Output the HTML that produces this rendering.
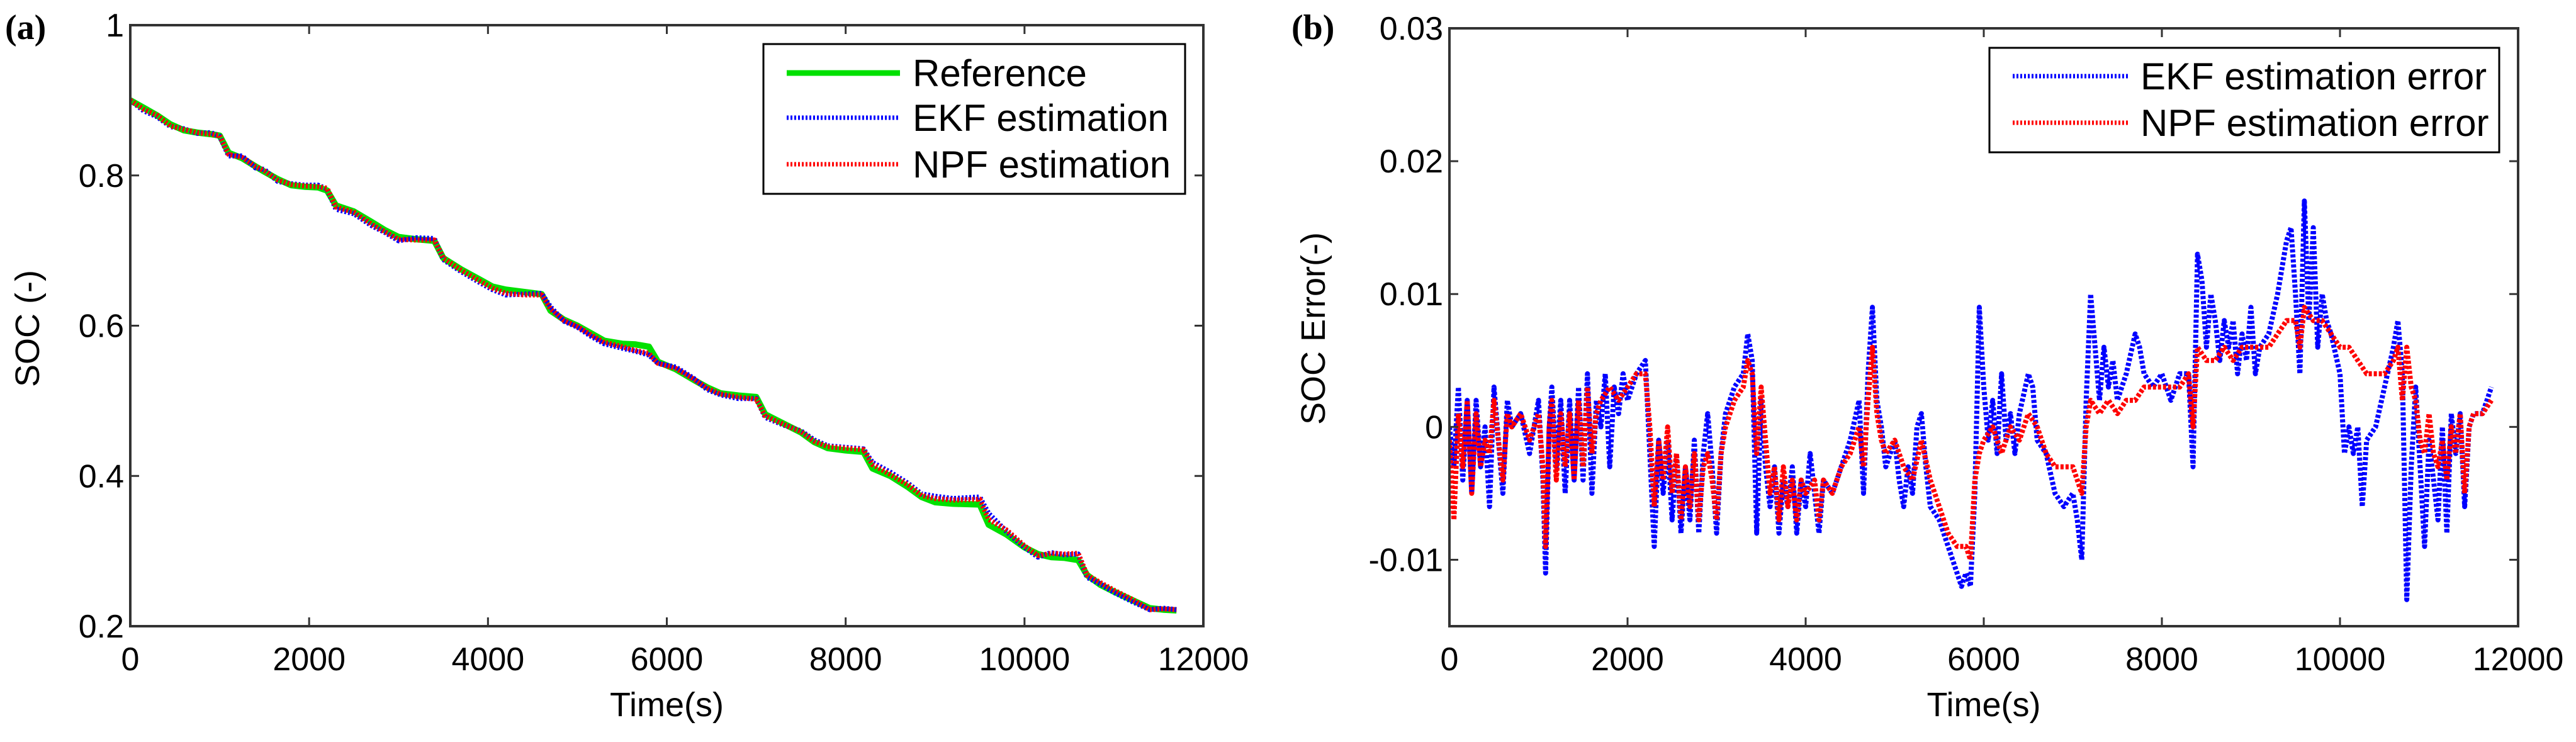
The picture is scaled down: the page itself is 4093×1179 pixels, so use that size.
<!DOCTYPE html>
<html><head><meta charset="utf-8"><style>
html,body{margin:0;padding:0;background:#fff;}
svg{display:block;font-family:"Liberation Sans",Arial,sans-serif;}
</style></head><body>
<svg id="chart" width="4093" height="1179" viewBox="0 0 4093 1179" xmlns="http://www.w3.org/2000/svg">
<text x="8" y="62" font-family="Liberation Serif,serif" font-weight="bold" font-size="56">(a)</text>
<text x="2052" y="62" font-family="Liberation Serif,serif" font-weight="bold" font-size="56">(b)</text>
<g id="pa"></g>
<g id="pb"></g>
</svg>
<script>
const NS="http://www.w3.org/2000/svg";
// Panel A data
const socTimes=[0,150,300,450,600,750,900,1000,1100,1250,1400,1500,1650,1800,1950,2100,2200,2300,2500,2700,2850,3000,3200,3400,3500,3700,3900,4050,4200,4400,4600,4700,4850,5000,5150,5300,5500,5650,5800,5900,6100,6300,6450,6600,6800,7000,7100,7300,7500,7650,7800,8000,8200,8300,8500,8700,8850,9000,9200,9500,9600,9800,10000,10150,10300,10450,10600,10700,10850,11000,11200,11400,11550,11700];
const socReference=[0.9,0.89,0.88,0.868,0.86,0.857,0.855,0.853,0.83,0.823,0.812,0.805,0.795,0.787,0.785,0.784,0.78,0.76,0.752,0.738,0.727,0.718,0.715,0.713,0.69,0.675,0.662,0.652,0.648,0.645,0.642,0.62,0.608,0.6,0.59,0.58,0.576,0.575,0.572,0.552,0.542,0.528,0.518,0.51,0.507,0.505,0.482,0.47,0.458,0.445,0.437,0.434,0.432,0.41,0.4,0.385,0.372,0.365,0.363,0.362,0.335,0.322,0.305,0.296,0.292,0.291,0.288,0.268,0.255,0.246,0.235,0.224,0.222,0.221];
const socEKF=[0.9,0.886,0.878,0.865,0.862,0.856,0.857,0.852,0.826,0.826,0.81,0.808,0.792,0.789,0.787,0.787,0.782,0.755,0.749,0.733,0.724,0.713,0.717,0.716,0.688,0.672,0.658,0.648,0.641,0.642,0.643,0.625,0.606,0.598,0.586,0.576,0.57,0.566,0.561,0.55,0.545,0.53,0.515,0.508,0.503,0.503,0.478,0.468,0.46,0.448,0.44,0.438,0.436,0.418,0.405,0.39,0.376,0.373,0.37,0.372,0.35,0.326,0.305,0.292,0.298,0.295,0.296,0.265,0.256,0.245,0.233,0.222,0.224,0.222];
const socNPF=[0.9,0.888,0.88,0.866,0.861,0.857,0.855,0.853,0.828,0.824,0.812,0.806,0.794,0.788,0.786,0.785,0.783,0.758,0.751,0.735,0.725,0.715,0.714,0.714,0.69,0.674,0.66,0.65,0.643,0.641,0.641,0.622,0.607,0.599,0.588,0.578,0.572,0.567,0.563,0.55,0.543,0.529,0.517,0.509,0.505,0.502,0.48,0.469,0.459,0.446,0.439,0.437,0.435,0.415,0.402,0.388,0.374,0.37,0.368,0.369,0.342,0.328,0.307,0.294,0.297,0.296,0.297,0.268,0.258,0.248,0.236,0.222,0.223,0.222];
const xTicksA=[0,2000,4000,6000,8000,10000,12000];
const yTicksA=[0.2,0.4,0.6,0.8,1];
const yTickLabelsA=["0.2","0.4","0.6","0.8","1"];
// Panel B data
const ekfErrTimes=[0,50,100,150,200,250,300,350,400,450,500,550,600,650,700,800,900,1000,1050,1080,1120,1150,1200,1250,1300,1350,1400,1450,1500,1550,1600,1650,1700,1750,1800,1850,1900,1950,2000,2100,2200,2250,2300,2350,2400,2450,2500,2550,2600,2650,2700,2750,2800,2850,2900,2950,3000,3050,3100,3200,3300,3350,3400,3450,3500,3550,3600,3650,3700,3750,3800,3850,3900,3950,4000,4050,4100,4150,4200,4300,4400,4500,4600,4650,4700,4750,4800,4850,4900,5000,5050,5100,5150,5200,5250,5300,5350,5400,5500,5600,5700,5750,5800,5850,5900,5950,6000,6050,6100,6150,6200,6250,6300,6350,6400,6500,6550,6600,6700,6800,6900,7000,7050,7100,7150,7200,7250,7300,7350,7400,7450,7500,7600,7700,7750,7800,7900,8000,8100,8200,8300,8350,8400,8450,8500,8550,8600,8650,8700,8750,8800,8850,8900,8950,9000,9050,9100,9200,9300,9400,9450,9500,9550,9600,9650,9700,9750,9800,9850,9900,10000,10050,10100,10150,10200,10250,10300,10400,10500,10600,10650,10700,10750,10800,10850,10900,10950,11000,11050,11100,11150,11200,11250,11300,11350,11400,11450,11500,11600,11700];
const ekfErr=[0,-0.003,0.003,-0.004,0.002,-0.005,0.002,-0.003,0,-0.006,0.003,-0.001,-0.005,0.002,0,0.001,-0.002,0.002,-0.004,-0.011,0,0.003,-0.003,0.002,-0.005,0.002,-0.004,0.003,-0.004,0.004,-0.005,0.002,0,0.004,-0.003,0.003,0.001,0.004,0.002,0.004,0.005,-0.002,-0.009,-0.001,-0.005,-0.001,-0.007,-0.002,-0.008,-0.003,-0.007,-0.001,-0.008,-0.002,0.001,-0.003,-0.008,-0.002,0.001,0.003,0.004,0.007,0.005,-0.008,0.002,-0.003,-0.006,-0.003,-0.008,-0.004,-0.006,-0.003,-0.008,-0.004,-0.006,-0.002,-0.005,-0.008,-0.004,-0.005,-0.003,-0.001,0.002,-0.005,0.004,0.009,0.002,0,-0.003,-0.001,-0.004,-0.006,-0.003,-0.005,0,0.001,-0.003,-0.006,-0.007,-0.009,-0.011,-0.012,-0.011,-0.012,-0.005,0.009,0.003,-0.001,0.002,-0.002,0.004,-0.001,0.001,-0.002,0.001,0.004,0.003,-0.001,-0.002,-0.005,-0.006,-0.005,-0.007,-0.01,0.002,0.01,0.006,0.002,0.006,0.003,0.005,0.002,0.004,0.007,0.006,0.004,0.003,0.004,0.002,0.004,0.004,-0.003,0.013,0.011,0.006,0.01,0.008,0.005,0.008,0.006,0.008,0.004,0.007,0.005,0.009,0.004,0.006,0.007,0.01,0.014,0.015,0.01,0.004,0.017,0.008,0.015,0.006,0.01,0.008,0.007,0.004,-0.002,0,-0.002,0,-0.006,-0.001,0,0.003,0.006,0.008,0.004,-0.013,-0.003,0.003,-0.003,-0.009,-0.001,-0.004,-0.007,0,-0.008,0.001,-0.002,0.001,-0.006,0,0.001,0.001,0.003];
const npfErrTimes=[0,50,100,150,200,250,300,350,400,450,500,550,600,650,700,800,900,1000,1050,1080,1120,1150,1200,1250,1300,1350,1400,1450,1500,1550,1600,1650,1700,1800,1900,2000,2100,2200,2250,2300,2350,2400,2450,2500,2550,2600,2650,2700,2750,2800,2850,2900,2950,3000,3050,3100,3200,3300,3350,3400,3450,3500,3550,3600,3650,3700,3750,3800,3850,3900,3950,4000,4100,4150,4200,4300,4400,4500,4600,4650,4700,4750,4800,4850,4900,5000,5100,5200,5300,5400,5500,5600,5700,5800,5850,5900,5950,6000,6100,6200,6300,6400,6500,6600,6700,6800,6900,7000,7100,7150,7200,7300,7400,7500,7600,7700,7800,7900,8000,8100,8200,8300,8350,8400,8500,8600,8700,8800,8900,9000,9100,9200,9300,9400,9500,9550,9600,9700,9800,9900,10000,10100,10200,10300,10400,10500,10600,10650,10700,10750,10800,10850,10900,10950,11000,11050,11100,11150,11200,11250,11300,11350,11400,11450,11500,11600,11700];
const npfErr=[-0.001,-0.007,0.001,-0.003,0.002,-0.005,0.001,-0.003,-0.001,-0.002,0.002,-0.001,-0.004,0.001,0,0.001,-0.001,0.001,-0.003,-0.009,0,0.002,-0.004,0.001,-0.003,0.001,-0.004,0.002,-0.003,0.003,-0.002,0.001,0.002,0.003,0.002,0.003,0.004,0.004,0,-0.006,-0.001,-0.004,0,-0.005,-0.002,-0.007,-0.003,-0.006,-0.002,-0.007,-0.003,-0.002,-0.004,-0.007,-0.002,0,0.002,0.003,0.005,0.004,-0.002,0.003,-0.001,-0.005,-0.003,-0.007,-0.003,-0.006,-0.004,-0.007,-0.004,-0.005,-0.004,-0.007,-0.004,-0.005,-0.003,-0.002,0,-0.003,0.002,0.006,0.001,-0.001,-0.002,-0.001,-0.003,-0.004,-0.001,-0.004,-0.006,-0.008,-0.009,-0.009,-0.01,-0.004,-0.002,-0.001,0,-0.002,0,-0.001,0.001,0,-0.002,-0.003,-0.003,-0.003,-0.005,0,0.002,0.001,0.002,0.001,0.002,0.002,0.003,0.003,0.003,0.003,0.003,0.004,0,0.006,0.005,0.005,0.006,0.005,0.006,0.006,0.006,0.006,0.007,0.008,0.008,0.006,0.009,0.008,0.008,0.007,0.006,0.006,0.005,0.004,0.004,0.004,0.005,0.006,0.002,0.006,0.003,0.002,-0.001,-0.002,0.001,-0.002,-0.003,-0.001,-0.004,0,-0.002,0.001,-0.005,0,0.001,0.001,0.002];
const xTicksB=[0,2000,4000,6000,8000,10000,12000];
const yTicksB=[-0.01,0,0.01,0.02,0.03];
const yTickLabelsB=["-0.01","0","0.01","0.02","0.03"];

function el(tag,attrs,parent){const e=document.createElementNS(NS,tag);for(const k in attrs)e.setAttribute(k,attrs[k]);parent.appendChild(e);return e;}
function linear(d0,d1,r0,r1){return v=>r0+(v-d0)/(d1-d0)*(r1-r0);}

function drawPanel(g,cfg){
  const sx=linear(cfg.xd[0],cfg.xd[1],cfg.x0,cfg.x1), sy=linear(cfg.yd[0],cfg.yd[1],cfg.y1,cfg.y0);
  const frame=el('rect',{x:cfg.x0,y:cfg.y0,width:cfg.x1-cfg.x0,height:cfg.y1-cfg.y0,fill:'#fff',stroke:'none'},g);
  
  
  const cp=el('clipPath',{id:cfg.id+'clip'},g);
  el('rect',{x:cfg.x0,y:cfg.y0,width:cfg.x1-cfg.x0,height:cfg.y1-cfg.y0},cp);
  cfg.series.forEach(s=>{
    const d=s.t.map((t,i)=>(i?'L':'M')+sx(t).toFixed(1)+' '+sy(s.v[i]).toFixed(1)).join(' ');
    const p=el('path',{d:d,fill:'none',stroke:s.color,'stroke-width':s.w,'stroke-dasharray':s.dash||'none','stroke-linejoin':'round','clip-path':'url(#'+cfg.id+'clip)'},g);
    
    
  });
  el('rect',{x:cfg.x0,y:cfg.y0,width:cfg.x1-cfg.x0,height:cfg.y1-cfg.y0,fill:'none',stroke:'#333','stroke-width':4},g);
  cfg.xt.forEach(t=>{
    const x=sx(t);
    el('line',{x1:x,x2:x,y1:cfg.y1,y2:cfg.y1-14,stroke:'#333','stroke-width':3},g);
    el('line',{x1:x,x2:x,y1:cfg.y0,y2:cfg.y0+14,stroke:'#333','stroke-width':3},g);
    const tx=el('text',{x:x,y:cfg.y1+70,'text-anchor':'middle','font-size':52},g);
    tx.textContent=String(t);
    
    
  });
  cfg.yt.forEach((t,i)=>{
    const y=sy(t);
    el('line',{x1:cfg.x0,x2:cfg.x0+14,y1:y,y2:y,stroke:'#333','stroke-width':3},g);
    el('line',{x1:cfg.x1,x2:cfg.x1-14,y1:y,y2:y,stroke:'#333','stroke-width':3},g);
    const tx=el('text',{x:cfg.x0-10,y:y+18,'text-anchor':'end','font-size':52},g);
    tx.textContent=cfg.ytl[i];
    
    
  });
  const xl=el('text',{x:(cfg.x0+cfg.x1)/2,y:1138,'text-anchor':'middle','font-size':54},g);
  xl.textContent='Time(s)';
  
  
  const yl=el('text',{x:0,y:0,'text-anchor':'middle','font-size':54,transform:'translate('+cfg.ylx+',522) rotate(-90)'},g);
  yl.textContent=cfg.ylabel;
  
  
  const L=cfg.legend;
  const lb=el('rect',{x:L.x,y:L.y,width:L.w,height:L.h,fill:'#fff',stroke:'#000','stroke-width':3},g);
  
  
  L.items.forEach((it,i)=>{
    const y=L.ys[i];
    const ln=el('line',{x1:L.lx0,x2:L.lx1,y1:y,y2:y,stroke:it.color,'stroke-width':it.w,'stroke-dasharray':it.dash||'none'},g);
    
    
    const tx=el('text',{x:L.tx,y:y+21,'font-size':60},g);
    tx.textContent=it.label;
    
    
  });
}

drawPanel(document.getElementById('pa'),{id:'a',x0:207,x1:1912,y0:40,y1:995,xd:[0,12000],yd:[0.2,1],xt:xTicksA,yt:yTicksA,ytl:yTickLabelsA,ylabel:'SOC (-)',ylx:62,
  series:[
    {t:socTimes,v:socReference,color:'#00e000',w:10,name:'reference-line'},
    {t:socTimes,v:socEKF,color:'#0000ff',w:8,dash:'3 3',name:'ekf-line'},
    {t:socTimes,v:socNPF,color:'#ff0000',w:8,dash:'3 3',name:'npf-line'}],
  legend:{x:1213,y:70,w:670,h:238,ys:[116,187,261],lx0:1250,lx1:1430,tx:1450,items:[
    {label:'Reference',color:'#00e000',w:9},{label:'EKF estimation',color:'#0000ff',w:7,dash:'3 3'},{label:'NPF estimation',color:'#ff0000',w:7,dash:'3 3'}]}});

drawPanel(document.getElementById('pb'),{id:'b',x0:2303,x1:4001,y0:45,y1:995,xd:[0,12000],yd:[-0.015,0.03],xt:xTicksB,yt:yTicksB,ytl:yTickLabelsB,ylabel:'SOC Error(-)',ylx:2105,
  series:[
    {t:ekfErrTimes,v:ekfErr,color:'#0000ff',w:8,dash:'5 3',name:'ekf-error-line'},
    {t:npfErrTimes,v:npfErr,color:'#ff0000',w:8,dash:'5 3',name:'npf-error-line'}],
  legend:{x:3161,y:76,w:810,h:166,ys:[121,195],lx0:3198,lx1:3381,tx:3401,items:[
    {label:'EKF estimation error',color:'#0000ff',w:7,dash:'3 3'},{label:'NPF estimation error',color:'#ff0000',w:7,dash:'3 3'}]}});
</script>
</body></html>
